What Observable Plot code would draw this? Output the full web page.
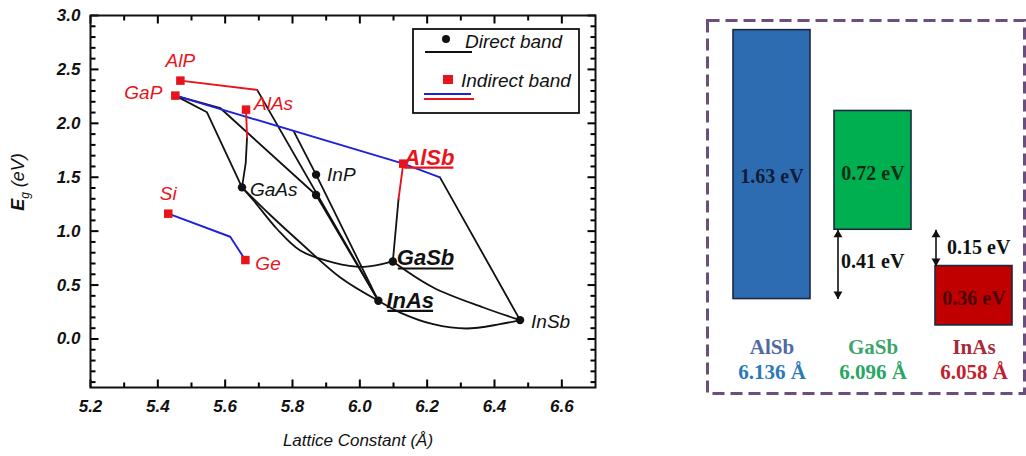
<!DOCTYPE html>
<html><head><meta charset="utf-8">
<script src="https://cdn.jsdelivr.net/npm/d3@7"></script>
<script src="https://cdn.jsdelivr.net/npm/@observablehq/plot@0.6"></script>
<style>
body{margin:0;background:#fff;}
#wrap{position:relative;width:1026px;height:456px;overflow:hidden;background:#fff;}
#left{position:absolute;left:0;top:0;}
#right{position:absolute;left:700px;top:0;}
</style></head><body>
<div id="wrap"><div id="left"></div><div id="right"></div></div>
<script>
// ---------- Left panel: band gap vs lattice constant ----------
const compounds = ["AlP","GaP","AlAs","Si","Ge","AlSb","GaAs","InP","InP_b","GaSb","InAs","InSb"];
const latticeA  = [5.467,5.452,5.662,5.431,5.660,6.129,5.650,5.870,5.870,6.098,6.055,6.476];
const gapEV     = [2.396,2.257,2.127,1.162,0.732,1.626,1.406,1.524,1.335,0.719,0.354,0.175];
const bandType  = ["indirect","indirect","indirect","indirect","indirect","indirect","direct","direct","direct","direct","direct","direct"];

// alloy curves [lattice constant, Eg]
const alpKinkInd  = [[5.467,2.396],[5.695,2.310]];
const alpKinkDir  = [[5.695,2.310],[6.055,0.354]];
const gapGaAs     = [[5.452,2.257],[5.546,2.102],[5.650,1.406]];
const gapInP      = [[5.452,2.257],[5.586,2.140],[5.870,1.335],[6.055,0.354]];
const alasGaAsInd = [[5.662,2.127],[5.665,1.870]];
const alasGaAsDir = [[5.665,1.870],[5.661,1.630],[5.650,1.406]];
const gapAlSbInd  = [[5.452,2.257],[6.129,1.626],[6.238,1.499]];
const alsbInSbDir = [[6.238,1.499],[6.476,0.175]];
const alsbGaSbInd = [[6.129,1.626],[6.115,1.300]];
const alsbGaSbDir = [[6.115,1.300],[6.098,0.719]];
const alasInAsDir = [[5.803,1.930],[5.870,1.524],[6.055,0.354]];
const gaasInAs    = [[5.650,1.406],[5.734,1.150],[5.823,0.895],[5.942,0.570],[6.055,0.354]];
const gaasGaSb    = [[5.650,1.406],[5.685,1.282],[5.754,1.020],[5.823,0.820],[5.922,0.709],[6.011,0.669],[6.098,0.719]];
const inasInSb    = [[6.055,0.354],[6.120,0.245],[6.218,0.137],[6.317,0.097],[6.416,0.137],[6.476,0.175]];
const gasbInSb    = [[6.098,0.719],[6.218,0.478],[6.367,0.292],[6.476,0.175]];
const siGe        = [[5.431,1.162],[5.615,0.948],[5.660,0.732]];

const xMajor = [5.2,5.4,5.6,5.8,6.0,6.2,6.4,6.6];
const xMinor = [5.3,5.5,5.7,5.9,6.1,6.3,6.5];
const yMajor = [0,0.5,1.0,1.5,2.0,2.5,3.0];
const yMinor = [-0.4,-0.3,-0.2,-0.1,0.1,0.2,0.3,0.4,0.6,0.7,0.8,0.9,1.1,1.2,1.3,1.4,1.6,1.7,1.8,1.9,2.1,2.2,2.3,2.4,2.6,2.7,2.8,2.9];

const RED = "#e8141c", BLUE = "#1f22d6", BLACK = "#111";
const curves = [
  {id:"alpKinkDir", pts:alpKinkDir, color:BLACK, smooth:false},
  {id:"gapGaAs", pts:gapGaAs, color:BLACK, smooth:false},
  {id:"gapInP", pts:gapInP, color:BLACK, smooth:false},
  {id:"alasGaAsDir", pts:alasGaAsDir, color:BLACK, smooth:false},
  {id:"alsbInSbDir", pts:alsbInSbDir, color:BLACK, smooth:false},
  {id:"alsbGaSbDir", pts:alsbGaSbDir, color:BLACK, smooth:false},
  {id:"alasInAsDir", pts:alasInAsDir, color:BLACK, smooth:false},
  {id:"gaasInAs", pts:gaasInAs, color:BLACK, smooth:true},
  {id:"gaasGaSb", pts:gaasGaSb, color:BLACK, smooth:true},
  {id:"inasInSb", pts:inasInSb, color:BLACK, smooth:true},
  {id:"gasbInSb", pts:gasbInSb, color:BLACK, smooth:true},
  {id:"gapAlSbInd", pts:gapAlSbInd, color:BLUE, smooth:false},
  {id:"siGe", pts:siGe, color:BLUE, smooth:false},
  {id:"alpKinkInd", pts:alpKinkInd, color:RED, smooth:false},
  {id:"alasGaAsInd", pts:alasGaAsInd, color:RED, smooth:false},
  {id:"alsbGaSbInd", pts:alsbGaSbInd, color:RED, smooth:false}
];
const rows = c => c.pts.map(([x,y]) => ({id:c.id, x, y, color:c.color}));
const linBlack = curves.filter(c=>!c.smooth && c.color===BLACK).flatMap(rows);
const smoothBlack = curves.filter(c=>c.smooth).flatMap(rows);
const colored = curves.filter(c=>c.color!==BLACK).flatMap(rows);

const pts = compounds.map((name,i)=>({name, x:latticeA[i], y:gapEV[i], type:bandType[i]}));
const lab = (names, o) => Plot.text(pts.filter(d=>names.includes(d.name)),
  {x:"x", y:"y", text:"name", fontStyle:"italic", fontSize:19, fill:BLACK, ...o});

// layout of the left panel
const LW = 620, LH = 456, LML = 90, LMR = 25, LMT = 15, LMB = 69;
const XD = [5.2, 6.7], YD = [-0.45, 3.0];
const pxX = (LW - LML - LMR) / (XD[1] - XD[0]);   // pixels per Å
const pxY = (LH - LMT - LMB) / (YD[1] - YD[0]);   // pixels per eV
// inward ticks on all four sides (tick length in pixels converted to data units)
const tickRows = [
  ...xMajor.flatMap(v => [{x1:v,x2:v,y1:YD[0],y2:YD[0]+8/pxY},{x1:v,x2:v,y1:YD[1],y2:YD[1]-8/pxY}]),
  ...xMinor.flatMap(v => [{x1:v,x2:v,y1:YD[0],y2:YD[0]+5/pxY},{x1:v,x2:v,y1:YD[1],y2:YD[1]-5/pxY}]),
  ...yMajor.flatMap(v => [{y1:v,y2:v,x1:XD[0],x2:XD[0]+8/pxX},{y1:v,y2:v,x1:XD[1],x2:XD[1]-8/pxX}]),
  ...yMinor.flatMap(v => [{y1:v,y2:v,x1:XD[0],x2:XD[0]+5/pxX},{y1:v,y2:v,x1:XD[1],x2:XD[1]-5/pxX}])
];

const left = Plot.plot({
  width: LW, height: LH,
  marginLeft: LML, marginRight: LMR, marginTop: LMT, marginBottom: LMB,
  x: {domain:XD, label:null},
  y: {domain:YD, label:null},
  color: {type:"identity"},
  style: {fontFamily:"'Liberation Sans', Arial, sans-serif", background:"transparent", color:BLACK},
  marks: [
    Plot.axisX(xMajor, {anchor:"bottom", tickSize:0, tickPadding:12, tickFormat:d3.format(".1f"), fontSize:17, fontWeight:"bold", fontStyle:"italic", label:null}),
    Plot.axisY(yMajor, {anchor:"left", tickSize:0, tickPadding:10, tickFormat:d3.format(".1f"), fontSize:17, fontWeight:"bold", fontStyle:"italic", label:null}),
    Plot.link(tickRows, {x1:"x1", x2:"x2", y1:"y1", y2:"y2", stroke:"#000", strokeWidth:2}),
    Plot.frame({stroke:BLACK, strokeWidth:2}),
    Plot.line(linBlack, {x:"x", y:"y", z:"id", stroke:"color", strokeWidth:1.8}),
    Plot.line(smoothBlack, {x:"x", y:"y", z:"id", stroke:"color", strokeWidth:1.8, curve:"catmull-rom"}),
    Plot.line(colored, {x:"x", y:"y", z:"id", stroke:"color", strokeWidth:1.9}),
    Plot.dot(pts.filter(d=>d.type==="direct"), {x:"x", y:"y", r:4.2, fill:BLACK, symbol:"circle"}),
    Plot.dot(pts.filter(d=>d.type==="indirect"), {x:"x", y:"y", r:4.8, fill:RED, symbol:"square"}),
    lab(["AlP","Si"], {fill:RED, dy:-20}),
    lab(["GaP"], {fill:RED, textAnchor:"end", dx:-13, dy:-3}),
    lab(["AlAs"], {fill:RED, textAnchor:"start", dx:8, dy:-6}),
    lab(["Ge"], {fill:RED, textAnchor:"start", dx:10, dy:4}),
    lab(["GaAs"], {textAnchor:"start", dx:8, dy:3}),
    lab(["InP"], {textAnchor:"start", dx:11, dy:0}),
    lab(["InSb"], {textAnchor:"start", dx:11, dy:2}),
    lab(["AlSb"], {fill:RED, textAnchor:"start", fontWeight:"bold", fontSize:22, dx:1, dy:-6}),
    lab(["GaSb"], {textAnchor:"start", fontWeight:"bold", fontSize:22, dx:4, dy:-3}),
    lab(["InAs"], {textAnchor:"start", fontWeight:"bold", fontSize:22, dx:8, dy:0}),
    Plot.text(["Lattice Constant (Å)"], {frameAnchor:"bottom", lineAnchor:"middle", text:d=>d, dy:53, dx:15, fontSize:17, fontStyle:"italic"})
  ]
});
document.getElementById("left").appendChild(left);

const ls = d3.select(left);
// underline the bold labels
const ulNames = ["AlSb","GaSb","InAs"];
const sr = left.getBoundingClientRect();
ls.selectAll("text").filter(function(){ return ulNames.includes(this.textContent) && (this.getAttribute("font-weight")==="bold" || this.parentNode.getAttribute("font-weight")==="bold"); })
  .each(function(){
    const r = this.getBoundingClientRect();
    const col = this.getAttribute("fill") || this.parentNode.getAttribute("fill") || BLACK;
    ls.append("line").attr("x1", r.left - sr.left + 1).attr("x2", r.right - sr.left - 1)
      .attr("y1", r.bottom - sr.top - 2).attr("y2", r.bottom - sr.top - 2)
      .attr("stroke", col).attr("stroke-width", 2.2);
  });

// y-axis title with subscript
const yt = ls.append("text").attr("transform","translate(24,182) rotate(-90)")
  .attr("text-anchor","middle").attr("font-size",18).attr("font-style","italic").attr("fill",BLACK);
yt.append("tspan").attr("font-weight","bold").text("E");
yt.append("tspan").attr("font-size",12).attr("dy",5).text("g");
yt.append("tspan").attr("dy",-5).text(" (eV)");

// legend
const lg = ls.append("g").attr("font-size",19).attr("font-style","italic").attr("fill",BLACK).attr("text-anchor","start");
lg.append("rect").attr("x",413).attr("y",29).attr("width",166).attr("height",84).attr("fill","#fff").attr("stroke",BLACK).attr("stroke-width",1.8);
lg.append("circle").attr("cx",446).attr("cy",39).attr("r",4).attr("fill",BLACK);
lg.append("text").attr("x",465).attr("y",48).text("Direct band");
lg.append("line").attr("x1",425).attr("x2",472).attr("y1",52).attr("y2",52).attr("stroke",BLACK).attr("stroke-width",2);
lg.append("rect").attr("x",443).attr("y",75).attr("width",10).attr("height",9).attr("fill",RED);
lg.append("text").attr("x",461).attr("y",87).text("Indirect band");
lg.append("line").attr("x1",424).attr("x2",471).attr("y1",94).attr("y2",94).attr("stroke",BLUE).attr("stroke-width",2);
lg.append("line").attr("x1",424).attr("x2",474).attr("y1",99).attr("y2",99).attr("stroke",RED).attr("stroke-width",2);

// ---------- Right panel: band alignment ----------
const alignNames   = ["AlSb","GaSb","InAs"];
const alignEv      = [-0.42, 0.00, -0.58];  // valence band edge (eV, GaSb VB = 0)
const alignEc      = [ 1.21, 0.72, -0.22];  // conduction band edge
const alignGapText = ["1.63 eV","0.72 eV","0.36 eV"];
const alignLattice = ["6.136 Å","6.096 Å","6.058 Å"];
const alignFill    = ["#2e6cb2","#00b050","#c00000"];
const gapTextColor = ["#121c36","#0b2e14","#4a0808"];
const nameColor    = ["#4e6aa5","#3ca56a","#a52a3a"];
const latColor     = ["#2a7ab8","#27a664","#c21e2e"];
const offsetText   = ["0.41 eV","0.15 eV"];

const align = alignNames.map((name,i)=>({name, ev:alignEv[i], ec:alignEc[i], gap:alignGapText[i],
  lat:alignLattice[i], fill:alignFill[i], tc:gapTextColor[i], nc:nameColor[i], lc:latColor[i]}));
const off1 = [{x:"GaSb", y1:align[1].ev, y2:align[0].ev, t:offsetText[0]}];
const off2 = [{x:"InAs", y1:align[1].ev, y2:align[2].ec, t:offsetText[1]}];
const serif = "'Liberation Serif', 'Times New Roman', serif";
const arrowMarks = (data, dx) => [
  Plot.link(data, {x1:"x", x2:"x", y1:"y1", y2:"y2", dx, stroke:"#111", strokeWidth:1.6}),
  Plot.dot(data, {x:"x", y:"y1", dx, dy:5, r:3.3, symbol:"triangle", fill:"#111"}),
  Plot.dot(data, {x:"x", y:"y2", dx, dy:-5, r:3.3, symbol:"triangle", rotate:180, fill:"#111"})
];

const right = Plot.plot({
  width: 326, height: 456,
  marginLeft: 33, marginRight: 14, marginTop: 20, marginBottom: 56,
  x: {type:"band", domain:alignNames, paddingInner:0.24, paddingOuter:0, axis:null},
  y: {domain:[-1.035,1.2685], axis:null},
  color: {type:"identity"},
  style: {fontFamily:serif, background:"transparent"},
  marks: [
    Plot.frame({stroke:"#6b4d7e", strokeWidth:3, strokeDasharray:"12,6", insetLeft:-26, insetRight:-12, insetBottom:7}),
    Plot.barY(align, {x:"name", y1:"ev", y2:"ec", fill:"fill", stroke:"#1c2940", strokeWidth:1.6}),
    Plot.text(align.slice(0,1), {x:"name", y:d=>(d.ev+d.ec)/2, text:"gap", fill:"tc", dy:12, fontSize:20, fontWeight:"bold"}),
    Plot.text(align.slice(1), {x:"name", y:d=>(d.ev+d.ec)/2, text:"gap", fill:"tc", dy:3, fontSize:20, fontWeight:"bold"}),
    ...arrowMarks(off1, -35),
    ...arrowMarks(off2, -38),
    Plot.text(off1, {x:"x", y:d=>(d.y1+d.y2)/2, text:"t", dx:-32, dy:-3, textAnchor:"start", fontSize:20, fontWeight:"bold", fill:"#111"}),
    Plot.text(off2, {x:"x", y:d=>(d.y1+d.y2)/2, text:"t", dx:-27, textAnchor:"start", fontSize:20, fontWeight:"bold", fill:"#111"}),
    Plot.text(align, {x:"name", frameAnchor:"bottom", lineAnchor:"middle", text:"name", fill:"nc", dy:-53, fontSize:21, fontWeight:"bold"}),
    Plot.text(align, {x:"name", frameAnchor:"bottom", lineAnchor:"middle", text:"lat", fill:"lc", dy:-28, fontSize:21, fontWeight:"bold"})
  ]
});
document.getElementById("right").appendChild(right);
</script>
</body></html>
